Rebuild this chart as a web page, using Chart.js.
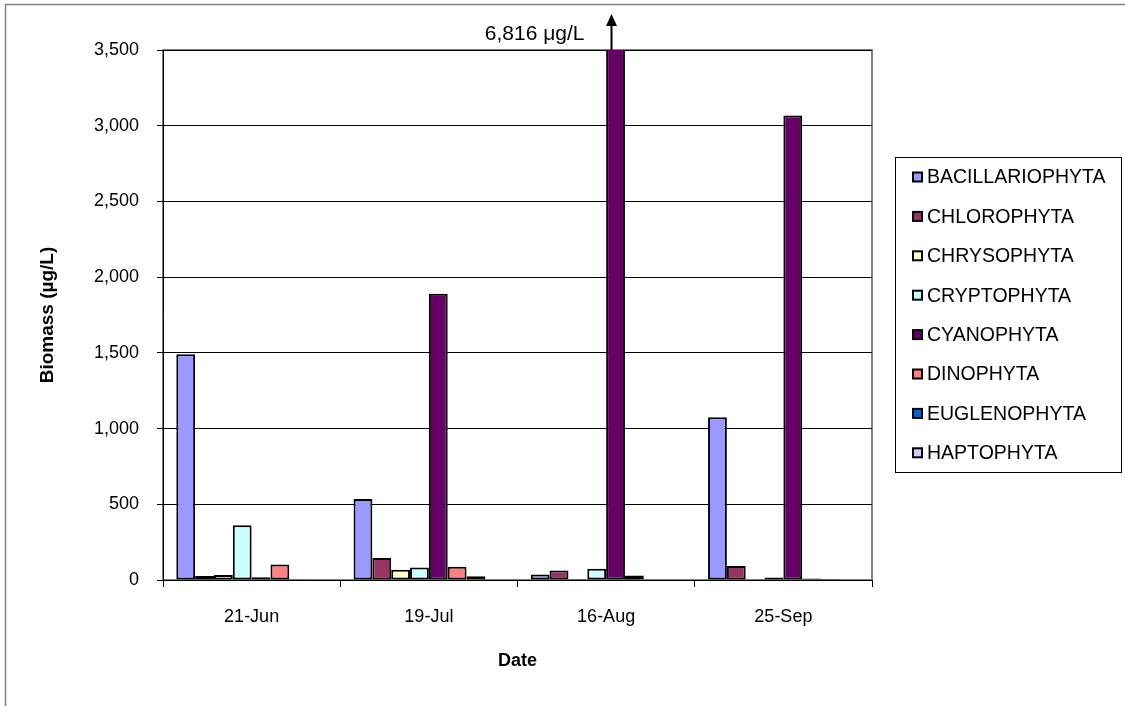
<!DOCTYPE html>
<html>
<head>
<meta charset="utf-8">
<title>Phytoplankton biomass by division</title>
<script src="https://cdn.jsdelivr.net/npm/chart.js@4/dist/chart.umd.min.js"></script>
<style>
  html, body { margin: 0; padding: 0; background: #fff; }
  #wrap { position: relative; width: 1125px; height: 706px; }
</style>
</head>
<body>
<div id="wrap"><canvas id="chart" width="1125" height="706"></canvas></div>
<script>
// Sampling dates
const dates = ['21-Jun', '19-Jul', '16-Aug', '25-Sep'];

// Biomass per division (µg/L)
const bacillariophyta = [1490, 535, 37, 1075];
const chlorophyta     = [27, 145, 63, 93];
const chrysophyta     = [33, 68, 6, 5];
const cryptophyta     = [362, 83, 75, 16];
const cyanophyta      = [18, 1890, 6816, 3068];
const dinophyta       = [102, 88, 30, 10];
const euglenophyta    = [2, 24, 3, 7];
const haptophyta      = [3, 4, 3, 3];

// Y axis ticks
const yTicks = [0, 500, 1000, 1500, 2000, 2500, 3000, 3500];

// Value shown above the clipped August cyanophyte bar
const offScaleLabel = '6,816 \u03bcg/L';

const FONT = '"Liberation Sans", Arial, sans-serif';

const series = [
  { label: 'BACILLARIOPHYTA', data: bacillariophyta, color: '#9999FF' },
  { label: 'CHLOROPHYTA',     data: chlorophyta,     color: '#993366' },
  { label: 'CHRYSOPHYTA',     data: chrysophyta,     color: '#FFFFCC' },
  { label: 'CRYPTOPHYTA',     data: cryptophyta,     color: '#CCFFFF' },
  { label: 'CYANOPHYTA',      data: cyanophyta,      color: '#660066' },
  { label: 'DINOPHYTA',       data: dinophyta,       color: '#FF8080' },
  { label: 'EUGLENOPHYTA',    data: euglenophyta,    color: '#0066CC' },
  { label: 'HAPTOPHYTA',      data: haptophyta,      color: '#CCCCFF' }
];

// Outer frame and grey plot-area border, drawn beneath the axes
const framePlugin = {
  id: 'frame',
  beforeDraw(chart) {
    const ctx = chart.ctx;
    const a = chart.chartArea;
    ctx.save();
    ctx.fillStyle = '#fff';
    ctx.fillRect(0, 0, chart.width, chart.height);
    ctx.strokeStyle = '#808080';
    ctx.lineWidth = 1.5;
    ctx.beginPath();
    ctx.moveTo(5.5, chart.height);
    ctx.lineTo(5.5, 4.5);
    ctx.lineTo(chart.width, 4.5);
    ctx.stroke();
    ctx.lineWidth = 2;
    ctx.strokeRect(a.left, a.top, a.right - a.left, a.bottom - a.top);
    ctx.restore();
  }
};

// Boxed legend on the right
const boxLegendPlugin = {
  id: 'boxLegend',
  afterDraw(chart) {
    const ctx = chart.ctx;
    const box = { left: 895, top: 157, right: 1121, bottom: 472 };
    ctx.save();
    ctx.strokeStyle = '#000';
    ctx.lineWidth = 1;
    ctx.strokeRect(box.left + 0.5, box.top + 0.5, box.right - box.left, box.bottom - box.top);
    ctx.font = '19.5px ' + FONT;
    ctx.textBaseline = 'middle';
    ctx.textAlign = 'left';
    chart.data.datasets.forEach((ds, i) => {
      const y = 177 + i * 39.4;
      ctx.fillStyle = ds.backgroundColor;
      ctx.fillRect(913, y - 4.5, 9, 9);
      ctx.strokeStyle = '#000';
      ctx.lineWidth = 2;
      ctx.strokeRect(913, y - 4.5, 9, 9);
      ctx.fillStyle = '#000';
      ctx.fillText(ds.label, 927, y + 1);
    });
    ctx.restore();
  }
};

// Arrow and value for the bar that runs past the top of the axis
const offScalePlugin = {
  id: 'offScale',
  afterDatasetsDraw(chart) {
    const ctx = chart.ctx;
    const top = chart.chartArea.top;
    const max = chart.scales.y.max;
    chart.data.datasets.forEach((ds, di) => {
      const meta = chart.getDatasetMeta(di);
      ds.data.forEach((v, idx) => {
        if (v <= max) return;
        const x = Math.round(meta.data[idx].x) - 4.5;
        ctx.save();
        ctx.strokeStyle = '#000';
        ctx.fillStyle = '#000';
        ctx.lineWidth = 2;
        ctx.beginPath();
        ctx.moveTo(x, top);
        ctx.lineTo(x, top - 26);
        ctx.stroke();
        ctx.beginPath();
        ctx.moveTo(x, top - 36);
        ctx.lineTo(x - 5.5, top - 24);
        ctx.lineTo(x + 5.5, top - 24);
        ctx.closePath();
        ctx.fill();
        ctx.font = '21px ' + FONT;
        ctx.textAlign = 'right';
        ctx.textBaseline = 'middle';
        ctx.fillText(offScaleLabel, x - 27, top - 16);
        ctx.restore();
      });
    });
  }
};

new Chart(document.getElementById('chart'), {
  type: 'bar',
  data: {
    labels: dates,
    datasets: series.map(s => ({
      label: s.label,
      data: s.data,
      backgroundColor: s.color,
      borderColor: '#000',
      borderWidth: 2,
      borderSkipped: false,
      categoryPercentage: 0.85,
      barPercentage: 1.0,
      clip: 0
    }))
  },
  options: {
    responsive: false,
    animation: false,
    devicePixelRatio: 1,
    layout: { padding: { left: 0, top: 50, right: 253, bottom: 0 } },
    plugins: {
      legend: { display: false },
      tooltip: { enabled: false }
    },
    scales: {
      x: {
        offset: true,
        grid: { offset: true, drawOnChartArea: false, drawTicks: true, tickLength: 7, color: '#000' },
        border: { color: '#000', width: 1 },
        ticks: { color: '#000', font: { family: FONT, size: 18 }, padding: 19, maxRotation: 0 },
        title: {
          display: true, text: 'Date', color: '#000',
          font: { family: FONT, size: 18, weight: 'bold' },
          padding: { top: 0, bottom: 34 }
        },
        afterFit(scale) { scale.height = 126; }
      },
      y: {
        min: yTicks[0],
        max: yTicks[yTicks.length - 1],
        afterBuildTicks(scale) { scale.ticks = yTicks.map(v => ({ value: v })); },
        grid: { color: '#000', tickLength: 6, lineWidth: 1 },
        border: { color: '#000', width: 1 },
        ticks: {
          color: '#000', font: { family: FONT, size: 18 }, padding: 18,
          callback: v => Number(v).toLocaleString('en-US')
        },
        title: {
          display: true, text: 'Biomass (\u00b5g/L)', color: '#000',
          font: { family: FONT, size: 19, weight: 'bold' },
          padding: { top: 36, bottom: 0 }
        },
        afterFit(scale) { scale.width = 163; }
      }
    }
  },
  plugins: [framePlugin, boxLegendPlugin, offScalePlugin]
});
</script>
</body>
</html>
